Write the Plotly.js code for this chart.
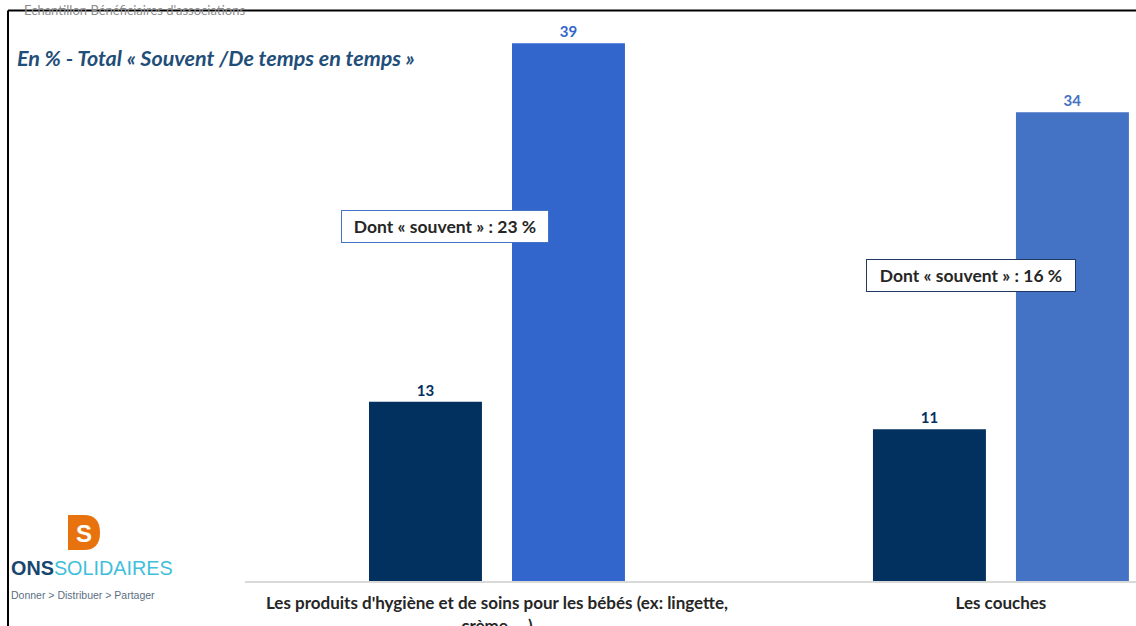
<!DOCTYPE html>
<html>
<head>
<meta charset="utf-8">
<script src="https://cdn.plot.ly/plotly-3.0.1.min.js"></script>
<style>html,body{margin:0;padding:0;background:#fff;}#chart{width:1136px;height:626px;}</style>
</head>
<body>
<div id="chart"></div>
<script>
const categories = ["Les produits d'hygiène et de soins pour les bébés (ex: lingette,<br>crème, ...)", "Les couches"];
const darkValues = [13, 11];
const lightValues = [39, 34];
const darkColors = ["#03315f", "#03315f"];
const lightColors = ["#3366cc", "#4472c4"];
const souventValues = [23, 16];
const titleText = "En % - Total « Souvent /De temps en temps »";
const sampleText = "Echantillon Bénéficiaires d'associations";

const W = 1136, H = 626;
const ML = 245, MR = 0, MT = 20, MB = 45;
const PW = W - ML - MR, PH = H - MT - MB;
function PX(x){ return (x - ML) / PW; }
function PY(y){ return (H - MB - y) / PH; }

const traces = [
  {
    type: 'bar', x: categories, y: darkValues, name: 'A',
    marker: {color: darkColors},
    text: darkValues.map(String), textposition: 'outside',
    textfont: {family: 'Lato', size: 15, color: darkColors, weight: 'bold'},
    cliponaxis: false, hoverinfo: 'skip'
  },
  {
    type: 'bar', x: categories, y: lightValues, name: 'B',
    marker: {color: lightColors},
    text: lightValues.map(String), textposition: 'outside',
    textfont: {family: 'Lato', size: 15, color: lightColors, weight: 'bold'},
    cliponaxis: false, hoverinfo: 'skip'
  }
];

const layout = {
  width: W, height: H,
  margin: {l: ML, r: MR, t: MT, b: MB, pad: 0},
  paper_bgcolor: '#fff', plot_bgcolor: '#fff',
  showlegend: false,
  barmode: 'group', bargap: 0.4325, bargroupgap: 0.21,
  font: {family: 'Lato', color: '#262626'},
  xaxis: {
    type: 'category', range: [-0.5, 1.268], fixedrange: true,
    showline: true, linecolor: '#d9d9d9', linewidth: 2,
    ticks: '', showgrid: false, zeroline: false, ticklabelstandoff: 6,
    tickfont: {family: 'Lato', size: 17, color: '#262626', weight: 'bold'}
  },
  yaxis: {
    range: [0, PH / 13.79], visible: false, fixedrange: true,
    showgrid: false, zeroline: false
  },
  shapes: [
    {type: 'line', xref: 'paper', yref: 'paper', x0: PX(8), x1: PX(1140), y0: PY(10.5), y1: PY(10.5), line: {color: '#000', width: 2}},
    {type: 'line', xref: 'paper', yref: 'paper', x0: PX(8), x1: PX(8), y0: PY(10.5), y1: PY(630), line: {color: '#000', width: 2}},
    {type: 'path', xref: 'paper', yref: 'paper', fillcolor: '#e8730e', line: {width: 0},
     path: 'M ' + PX(68) + ',' + PY(515) + ' L ' + PX(84) + ',' + PY(515) +
           ' Q ' + PX(100) + ',' + PY(515) + ' ' + PX(100) + ',' + PY(532.5) +
           ' Q ' + PX(100) + ',' + PY(550) + ' ' + PX(84) + ',' + PY(550) +
           ' L ' + PX(68) + ',' + PY(550) + ' Z'}
  ],
  annotations: [
    {xref: 'paper', yref: 'paper', x: PX(22), y: PY(10), xanchor: 'left', yanchor: 'middle', showarrow: false,
     text: sampleText, font: {family: 'Lato', size: 13, color: '#8c8c8c'}},
    {xref: 'paper', yref: 'paper', x: PX(15), y: PY(58), xanchor: 'left', yanchor: 'middle', showarrow: false,
     text: '<b><i>' + titleText + '</i></b>', font: {family: 'Lato', size: 21.5, color: '#1f4e79'}},
    {xref: 'paper', yref: 'paper', x: PX(445), y: PY(226.5), xanchor: 'center', yanchor: 'middle', showarrow: false,
     text: '<b>Dont « souvent » : ' + souventValues[0] + ' %</b>', font: {family: 'Lato', size: 17.5, color: '#262626'},
     bgcolor: '#fff', bordercolor: '#4472c4', borderwidth: 1, borderpad: 7, width: 192, height: 17},
    {xref: 'paper', yref: 'paper', x: PX(971), y: PY(275.5), xanchor: 'center', yanchor: 'middle', showarrow: false,
     text: '<b>Dont « souvent » : ' + souventValues[1] + ' %</b>', font: {family: 'Lato', size: 17.5, color: '#262626'},
     bgcolor: '#fff', bordercolor: '#1f3864', borderwidth: 1, borderpad: 7, width: 194, height: 17},
    {xref: 'paper', yref: 'paper', x: PX(84), y: PY(533), xanchor: 'center', yanchor: 'middle', showarrow: false,
     text: '<b>S</b>', font: {family: 'Liberation Sans', size: 24, color: '#fff'}},
    {xref: 'paper', yref: 'paper', x: PX(9), y: PY(568), xanchor: 'left', yanchor: 'middle', showarrow: false,
     text: '<b><span style="color:#17466e">ONS</span></b><span style="color:#3fbfdb">SOLIDAIRES</span>',
     font: {family: 'Liberation Sans', size: 19.8, color: '#3fbfdb'}},
    {xref: 'paper', yref: 'paper', x: PX(9), y: PY(595), xanchor: 'left', yanchor: 'middle', showarrow: false,
     text: 'Donner > Distribuer > Partager', font: {family: 'Liberation Sans', size: 10.5, color: '#5b6f82'}}
  ]
};

Plotly.newPlot('chart', traces, layout, {displayModeBar: false, staticPlot: true});
</script>
</body>
</html>
